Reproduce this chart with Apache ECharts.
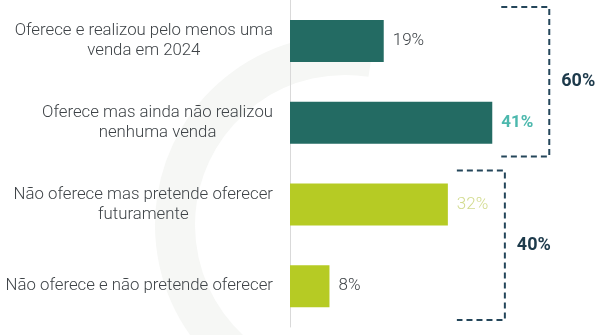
<!DOCTYPE html>
<html>
<head>
<meta charset="utf-8">
<script src="https://cdn.jsdelivr.net/npm/echarts@6/dist/echarts.min.js"></script>
<style>
html,body{margin:0;padding:0;background:#fff;}
#c{width:602px;height:335px;}
</style>
</head>
<body>
<div id="c"></div>
<script>
// ---- data ----
const categories = [
  'Oferece e realizou pelo menos uma\nvenda em 2024',
  'Oferece mas ainda não realizou\nnenhuma venda',
  'Não oferece mas pretende oferecer\nfuturamente',
  'Não oferece e não pretende oferecer'
];
const values = [19, 41, 32, 8];
const groupFrom = [0, 2];
const groupTo = [1, 3];

// ---- styles ----
const barColors = ['#236b63', '#236b63', '#b6cb24', '#b6cb24'];
const labelColors = ['#3e4347', '#4cb8ad', '#d2db8e', '#3e4347'];
const labelWeights = ['300', 'bold', '300', '300'];
const textColor = '#3e4347';
const bracketColor = '#24465a';
const catFontSize = 16.8;

// measure label lines so each multi-line label is centred line by line
const mctx = document.createElement('canvas').getContext('2d');
mctx.font = '300 ' + catFontSize + 'px Roboto';
const rich = {};
categories.forEach((c, i) => {
  const lines = c.split('\n');
  const ws = lines.map(l => mctx.measureText(l).width);
  const mw = Math.max.apply(null, ws);
  lines.forEach((l, j) => {
    rich['c' + i + '_' + j] = {
      padding: [0, (mw - ws[j]) / 2, 0, 0],
      fontSize: catFontSize, fontWeight: 300,
      lineHeight: 20, color: textColor, fontFamily: 'Roboto'
    };
  });
});

const barData = values.map((v, i) => ({
  value: v,
  itemStyle: { color: barColors[i] },
  label: { color: labelColors[i], fontWeight: labelWeights[i] }
}));

const groupData = groupFrom.map((f, g) => {
  const t = groupTo[g];
  let mx = 0, sum = 0;
  for (let i = f; i <= t; i++) { mx = Math.max(mx, values[i]); sum += values[i]; }
  return [mx, f, t, sum];
});

const chart = echarts.init(document.getElementById('c'), null, { renderer: 'canvas' });
chart.setOption({
  animation: false,
  backgroundColor: '#fff',
  textStyle: { fontFamily: 'Roboto' },
  graphic: [{
    type: 'arc',
    z: -10, silent: true,
    shape: { cx: 345, cy: 225, r: 170, startAngle: Math.PI * 0.55, endAngle: Math.PI * 1.55 },
    style: { stroke: '#f6f7f5', lineWidth: 40, fill: null }
  }],
  grid: { left: 290, top: 0, width: 296, height: 327, containLabel: false },
  xAxis: {
    type: 'value', min: 0, max: 60,
    show: false
  },
  yAxis: {
    type: 'category',
    data: categories,
    inverse: true,
    axisLine: { show: true, lineStyle: { color: '#d9d9d9', width: 1 } },
    axisTick: { show: false },
    splitLine: { show: false },
    axisLabel: {
      margin: 17,
      align: 'right',
      formatter: (v, idx) => v.split('\n').map((l, j) => '{c' + idx + '_' + j + '|' + l + '}').join('\n'),
      rich: rich
    }
  },
  series: [{
    type: 'bar',
    data: barData,
    barWidth: 42,
    label: {
      show: true, position: 'right', distance: 9,
      fontSize: 17, fontFamily: 'Roboto',
      formatter: '{c}%'
    }
  }, {
    type: 'custom',
    data: groupData,
    encode: { x: 0, y: 1 },
    clip: false,
    silent: true,
    renderItem: function (params, api) {
      const mx = api.value(0), f = api.value(1), t = api.value(2), sum = api.value(3);
      const pTop = api.coord([mx, f]);
      const pBot = api.coord([mx, t]);
      const band = api.size([0, 1])[1];
      const y0 = pTop[1] - band * 0.415;
      const y1 = pBot[1] + band * 0.415;
      const xs = pTop[0] + 9;
      const xv = pTop[0] + 57;
      return {
        type: 'group',
        children: [{
          type: 'polyline',
          shape: { points: [[xs, y0], [xv, y0], [xv, y1], [xs, y1]] },
          style: { stroke: bracketColor, lineWidth: 2, lineDash: [6, 4], fill: null }
        }, {
          type: 'text',
          style: {
            x: xv + 12, y: (y0 + y1) / 2,
            text: sum + '%',
            fill: '#1d3a4b',
            font: 'bold 18px Roboto',
            textAlign: 'left', textVerticalAlign: 'middle'
          }
        }]
      };
    }
  }]
});
</script>
</body>
</html>
